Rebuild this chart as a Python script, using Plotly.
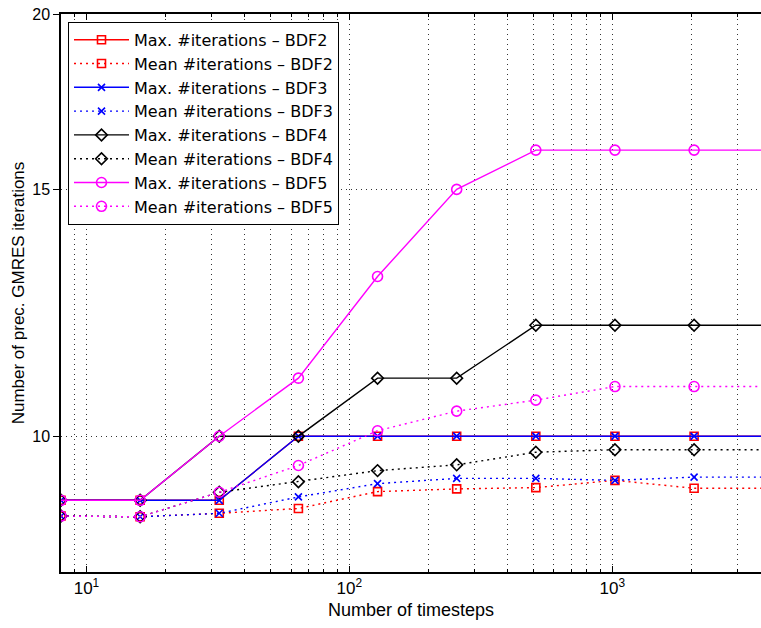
import plotly.graph_objects as go
import numpy as np

timesteps = [8, 16, 32, 64, 128, 256, 512, 1024, 2048, 4096]

max_bdf2 = [9, 9, 9, 10, 10, 10, 10, 10, 10, 10]
mean_bdf2 = [8.77, 8.76, 8.81, 8.88, 9.13, 9.17, 9.19, 9.30, 9.18, 9.18]
max_bdf3 = [9, 9, 9, 10, 10, 10, 10, 10, 10, 10]
mean_bdf3 = [8.77, 8.76, 8.81, 9.05, 9.25, 9.33, 9.33, 9.30, 9.35, 9.35]
max_bdf4 = [9, 9, 10, 10, 11, 11, 12, 12, 12, 12]
mean_bdf4 = [8.77, 8.76, 9.12, 9.28, 9.45, 9.54, 9.74, 9.78, 9.78, 9.78]
max_bdf5 = [9, 9, 10, 11, 13, 15, 16, 16, 16, 16]
mean_bdf5 = [8.77, 8.76, 9.12, 9.53, 10.09, 10.42, 10.61, 10.85, 10.85, 10.85]

x_tickvals = [10, 100, 1000]
x_ticktext = ["10<sup>1</sup>", "10<sup>2</sup>", "10<sup>3</sup>"]
x_minor = [9, 20, 30, 40, 50, 60, 70, 80, 90, 200, 300, 400, 500, 600, 700, 800, 900, 2000, 3000]
y_tickvals = [10, 15, 20]
y_ticktext = ["10", "15", "20"]

series = [
    ("Max. #iterations \u2013 BDF2", max_bdf2, "#FF0000", "solid", "square-open", 8),
    ("Mean #iterations \u2013 BDF2", mean_bdf2, "#FF0000", "2px,4px", "square-open", 8),
    ("Max. #iterations \u2013 BDF3", max_bdf3, "#0000FF", "solid", "x-thin-open", 7),
    ("Mean #iterations \u2013 BDF3", mean_bdf3, "#0000FF", "2px,4px", "x-thin-open", 7),
    ("Max. #iterations \u2013 BDF4", max_bdf4, "#000000", "solid", "diamond-open", 9),
    ("Mean #iterations \u2013 BDF4", mean_bdf4, "#000000", "2px,4px", "diamond-open", 9),
    ("Max. #iterations \u2013 BDF5", max_bdf5, "#FF00FF", "solid", "circle-open", 10),
    ("Mean #iterations \u2013 BDF5", mean_bdf5, "#FF00FF", "2px,4px", "circle-open", 10),
]

fig = go.Figure()
for name, ys, color, dash, sym, size in series:
    fig.add_trace(go.Scatter(
        x=timesteps, y=ys, name=name, mode="lines+markers",
        line=dict(color=color, width=1.4, dash=dash),
        marker=dict(symbol=sym, size=size, color=color, line=dict(color=color, width=1.6)),
    ))

font_family = "Liberation Sans, Arial, sans-serif"
fig.update_layout(
    width=761, height=628,
    margin=dict(l=61, r=0, t=14, b=56),
    paper_bgcolor="white", plot_bgcolor="white",
    font=dict(family=font_family, color="black", size=16),
    showlegend=True,
    legend=dict(
        x=0.01, y=0.986, xanchor="left", yanchor="top",
        bgcolor="white", bordercolor="black", borderwidth=1,
        font=dict(size=16, family="DejaVu Sans, Liberation Sans, sans-serif"),
        itemwidth=55, tracegroupgap=0,
    ),
    xaxis=dict(
        type="log", range=[np.log10(8), np.log10(3680)],
        tickmode="array", tickvals=x_tickvals, ticktext=x_ticktext,
        ticks="inside", ticklen=6, tickcolor="black",
        showline=True, linecolor="black", linewidth=1.5, mirror="ticks",
        showgrid=True, gridcolor="#333333", gridwidth=1, griddash="1px,4px",
        minor=dict(tickmode="array", tickvals=x_minor, ticks="inside", ticklen=3,
                   tickcolor="black", showgrid=True, gridcolor="#333333", gridwidth=1,
                   griddash="1px,4px"),
        title=dict(text="Number of timesteps", font=dict(size=18), standoff=6),
        tickfont=dict(size=17), ticklabeloverflow="allow",
        zeroline=False, automargin=False,
    ),
    yaxis=dict(
        type="log", range=[np.log10(8), np.log10(20.01)],
        tickmode="array", tickvals=y_tickvals, ticktext=y_ticktext,
        ticks="outside", ticklen=6, tickcolor="black",
        showline=True, linecolor="black", linewidth=1.5,
        showgrid=True, gridcolor="#333333", gridwidth=1, griddash="1px,4px",
        title=dict(text="Number of prec. GMRES iterations", font=dict(size=17), standoff=3),
        tickfont=dict(size=16), ticklabeloverflow="allow",
        zeroline=False, automargin=False,
    ),
)

fig.write_html(
    "out.html",
    config={"displayModeBar": False},
    post_script="document.body.style.margin='0';document.body.style.overflow='hidden';",
)
